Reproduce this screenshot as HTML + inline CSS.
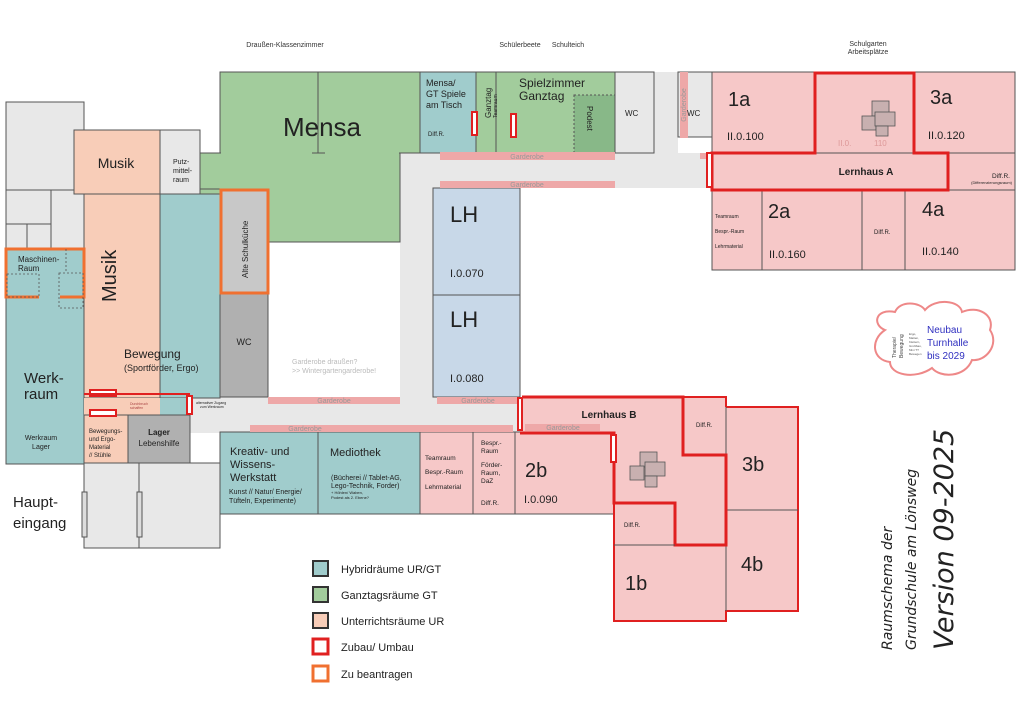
<!DOCTYPE html>
<html><head><meta charset="utf-8"><style>
html,body{margin:0;padding:0;background:#fff;}
svg{display:block;font-family:"Liberation Sans",sans-serif;}
</style></head><body>
<svg width="1024" height="703" viewBox="0 0 1024 703" xmlns="http://www.w3.org/2000/svg">
<rect width="1024" height="703" fill="#fff"/>
<g font-size="7" fill="#333">
<text x="285" y="47" text-anchor="middle">Draußen-Klassenzimmer</text>
<text x="520" y="47" text-anchor="middle">Schülerbeete</text>
<text x="568" y="47" text-anchor="middle">Schulteich</text>
<text x="868" y="46" text-anchor="middle">Schulgarten</text>
<text x="868" y="54" text-anchor="middle">Arbeitsplätze</text>
</g>
<g stroke="#555" stroke-width="1">
<rect x="400" y="153" width="312" height="35" fill="#e8e8e8" stroke="none"/>
<rect x="400" y="153" width="33" height="250" fill="#e8e8e8" stroke="none"/>
<rect x="84" y="397" width="530" height="36" fill="#e8e8e8" stroke="none"/>
<rect x="84" y="463" width="136" height="85" fill="#e8e8e8"/>
<line x1="139" y1="463" x2="139" y2="548"/>
<rect x="82" y="492" width="5" height="45" fill="#ddd"/>
<rect x="137" y="492" width="5" height="45" fill="#ddd"/>
<rect x="654" y="72" width="24" height="81" fill="#e8e8e8" stroke="none"/>
<rect x="6" y="102" width="78" height="146" fill="#e8e8e8"/>
<line x1="6" y1="190" x2="84" y2="190"/>
<line x1="51" y1="190" x2="51" y2="248"/>
<line x1="6" y1="224" x2="51" y2="224"/>
<line x1="27" y1="224" x2="27" y2="248"/>
<rect x="6" y="248" width="78" height="216" fill="#a0cccc"/>
<rect x="74" y="130" width="86" height="64" fill="#f8cdb8"/>
<rect x="160" y="130" width="40" height="64" fill="#e8e8e8"/>
<rect x="220" y="72" width="200" height="81" fill="#a2cc9c"/>
<rect x="200" y="153" width="200" height="89" fill="#a2cc9c"/>
<rect x="221" y="152" width="178" height="2" fill="#a2cc9c" stroke="none"/>
<line x1="318" y1="72" x2="318" y2="153"/>
<line x1="312" y1="153" x2="325" y2="153"/>
<line x1="200" y1="189" x2="220" y2="189"/>
<rect x="84" y="194" width="76" height="204" fill="#f8cdb8"/>
<rect x="160" y="194" width="60" height="204" fill="#a0cccc"/>
<rect x="220" y="190" width="48" height="103" fill="#c8c8c8"/>
<rect x="220" y="293" width="48" height="104" fill="#b0b0b0"/>
<rect x="84" y="398" width="106" height="17" fill="#f8cdb8" stroke="none"/>
<rect x="160" y="398" width="30" height="17" fill="#a0cccc" stroke="none"/>
<rect x="84" y="415" width="44" height="48" fill="#f8cdb8"/>
<rect x="128" y="415" width="62" height="48" fill="#b0b0b0"/>
<rect x="433" y="188" width="87" height="107" fill="#c8d8e8"/>
<rect x="433" y="295" width="87" height="102" fill="#c8d8e8"/>
<rect x="220" y="432" width="98" height="82" fill="#a0cccc"/>
<rect x="318" y="432" width="102" height="82" fill="#a0cccc"/>
<rect x="420" y="432" width="53" height="82" fill="#f6c8c8"/>
<rect x="473" y="432" width="42" height="82" fill="#f6c8c8"/>
<rect x="515" y="432" width="99" height="82" fill="#f6c8c8"/>
<rect x="420" y="72" width="56" height="81" fill="#a0cccc"/>
<rect x="476" y="72" width="20" height="81" fill="#a2cc9c"/>
<rect x="496" y="72" width="119" height="81" fill="#a2cc9c"/>
<rect x="574" y="95" width="41" height="58" fill="#88b888" stroke-dasharray="2,2"/>
<rect x="615" y="72" width="39" height="81" fill="#e8e8e8"/>
<rect x="678" y="72" width="34" height="65" fill="#e8e8e8"/>
<rect x="712" y="72" width="303" height="118" fill="#f6c8c8"/>
<line x1="712" y1="153" x2="1015" y2="153"/>
<line x1="915" y1="72" x2="915" y2="153"/>
<line x1="948" y1="153" x2="948" y2="190"/>
<rect x="712" y="190" width="50" height="80" fill="#f6c8c8"/>
<rect x="762" y="190" width="100" height="80" fill="#f6c8c8"/>
<rect x="862" y="190" width="43" height="80" fill="#f6c8c8"/>
<rect x="905" y="190" width="110" height="80" fill="#f6c8c8"/>
<path d="M520 397 H683 V455 H726 V545 H675 V503 H614 V433 H520 Z" fill="#f6c8c8" stroke="none"/>
<rect x="683" y="397" width="43" height="58" fill="#f6c8c8"/>
<rect x="726" y="407" width="72" height="103" fill="#f6c8c8"/>
<rect x="726" y="510" width="72" height="101" fill="#f6c8c8"/>
<rect x="614" y="503" width="61" height="42" fill="#f6c8c8"/>
<rect x="614" y="545" width="112" height="76" fill="#f6c8c8"/>
</g>
<g fill="#eea8a8">
<rect x="440" y="152" width="175" height="8"/>
<rect x="440" y="181" width="175" height="7"/>
<rect x="680" y="72" width="8" height="66"/>
<rect x="700" y="153" width="12" height="6"/>
<rect x="268" y="397" width="132" height="7"/>
<rect x="437" y="397" width="83" height="7"/>
<rect x="250" y="425" width="263" height="7"/>
<rect x="525" y="424" width="75" height="7"/>
</g>
<g font-size="7" fill="#999" text-anchor="middle">
<text x="527" y="159">Garderobe</text><text x="527" y="187">Garderobe</text>
<text x="334" y="403">Garderobe</text><text x="478" y="403">Garderobe</text>
<text x="305" y="431">Garderobe</text><text x="563" y="430">Garderobe</text>
<text transform="translate(686,105) rotate(-90)">Garderobe</text>
<text x="292" y="364" text-anchor="start" fill="#bbb">Garderobe draußen?</text>
<text x="292" y="373" text-anchor="start" fill="#bbb">&gt;&gt; Wintergartengarderobe!</text>
</g>
<g fill="none" stroke="#e02020" stroke-width="3">
<path d="M712 153 H815 V73 H914 V153 H948 V190 H712 Z"/>
<path d="M522 397 H683 V455 H726 V545 H675 V503 H614 V433 H520"/>
</g>
<path d="M614 503 V621 H726 V611 H798 V407 H726 M683 397 H726 V407" fill="none" stroke="#e02020" stroke-width="2"/>
<line x1="726" y1="407" x2="726" y2="611" stroke="#555"/>
<line x1="726" y1="510" x2="798" y2="510" stroke="#555"/>
<line x1="614" y1="545" x2="726" y2="545" stroke="#555"/>
<path d="M683 455 H726 V545 H675" fill="none" stroke="#e02020" stroke-width="3"/>
<g fill="#fff" stroke="#e02020" stroke-width="2">
<rect x="472" y="112" width="5" height="23"/><rect x="511" y="114" width="5" height="23"/>
<rect x="707" y="153" width="5" height="34"/><rect x="518" y="398" width="4" height="32"/>
<rect x="611" y="435" width="5" height="27"/>
<rect x="90" y="390" width="26" height="6"/><rect x="90" y="410" width="26" height="6"/>
<rect x="187" y="396" width="5" height="18"/>
</g>
<line x1="84" y1="394" x2="190" y2="394" stroke="#e02020" stroke-width="2"/>
<g fill="none" stroke="#f07030" stroke-width="3">
<rect x="221" y="190" width="47" height="103"/>
<path d="M39 297 H6 V249 H84 V297 H60"/>
</g>
<g fill="none" stroke="#555" stroke-dasharray="2,2" stroke-width="0.8">
<rect x="7" y="274" width="32" height="23"/><rect x="59" y="273" width="24" height="35"/><line x1="66" y1="249" x2="66" y2="273"/>
</g>
<g fill="#c8b0b0" stroke="#555" stroke-width="0.8">
<rect x="872" y="101" width="17" height="15"/><rect x="862" y="116" width="14" height="14"/><rect x="875" y="112" width="20" height="14"/><rect x="876" y="126" width="12" height="10"/>
<rect x="640" y="452" width="17" height="15"/><rect x="630" y="466" width="14" height="14"/><rect x="645" y="462" width="20" height="14"/><rect x="645" y="476" width="12" height="11"/>
</g>
<g fill="#222">
<text x="322" y="136" font-size="26" text-anchor="middle">Mensa</text>
<text x="116" y="168" font-size="14" text-anchor="middle">Musik</text>
<text x="173" y="164" font-size="7">Putz-</text><text x="173" y="173" font-size="7">mittel-</text><text x="173" y="182" font-size="7">raum</text>
<text x="18" y="262" font-size="8">Maschinen-</text><text x="18" y="271" font-size="8">Raum</text>
<text transform="translate(116,302) rotate(-90)" font-size="20">Musik</text>
<text transform="translate(248,278) rotate(-90)" font-size="8">Alte Schulküche</text>
<text x="244" y="345" font-size="9" text-anchor="middle">WC</text>
<text x="124" y="358" font-size="12">Bewegung</text>
<text x="124" y="371" font-size="9">(Sportförder, Ergo)</text>
<text x="24" y="383" font-size="15">Werk-</text><text x="24" y="399" font-size="15">raum</text>
<text x="41" y="440" font-size="7" text-anchor="middle">Werkraum</text><text x="41" y="449" font-size="7" text-anchor="middle">Lager</text>
<text x="89" y="433" font-size="6">Bewegungs-</text><text x="89" y="441" font-size="6">und Ergo-</text><text x="89" y="449" font-size="6">Material</text><text x="89" y="457" font-size="6">// Stühle</text>
<text x="159" y="435" font-size="8" font-weight="bold" text-anchor="middle">Lager</text><text x="159" y="446" font-size="8" text-anchor="middle">Lebenshilfe</text>
<text x="130" y="405" font-size="3.5" fill="#a44">Durchbruch</text><text x="130" y="409" font-size="3.5" fill="#a44">schaffen</text>
<text x="196" y="404" font-size="3.5">alternativer Zugang</text><text x="200" y="408" font-size="3.5">zum Werkraum</text>
<text x="13" y="507" font-size="15">Haupt-</text><text x="13" y="528" font-size="15">eingang</text>
<text x="230" y="455" font-size="11">Kreativ- und</text><text x="230" y="468" font-size="11">Wissens-</text><text x="230" y="481" font-size="11">Werkstatt</text>
<text x="229" y="494" font-size="7">Kunst // Natur/ Energie/</text><text x="229" y="503" font-size="7">Tüfteln, Experimente)</text>
<text x="330" y="456" font-size="11">Mediothek</text>
<text x="331" y="480" font-size="7">(Bücherei // Tablet-AG,</text><text x="331" y="488" font-size="7">Lego-Technik, Forder)</text>
<text x="331" y="494" font-size="4">+ Höhlen/ Waben,</text><text x="331" y="499" font-size="4">Podest als 2. Ebene?</text>
<text x="425" y="460" font-size="6.5">Teamraum</text><text x="425" y="474" font-size="6.5">Bespr.-Raum</text><text x="425" y="489" font-size="6.5">Lehrmaterial</text>
<text x="481" y="445" font-size="6.5">Bespr.-</text><text x="481" y="453" font-size="6.5">Raum</text><text x="481" y="467" font-size="6.5">Förder-</text><text x="481" y="475" font-size="6.5">Raum,</text><text x="481" y="483" font-size="6.5">DaZ</text><text x="481" y="505" font-size="6.5">Diff.R.</text>
<text x="525" y="477" font-size="20">2b</text><text x="524" y="503" font-size="11">I.0.090</text>
<text x="450" y="222" font-size="22">LH</text><text x="450" y="277" font-size="11">I.0.070</text>
<text x="450" y="327" font-size="22">LH</text><text x="450" y="382" font-size="11">I.0.080</text>
<text x="426" y="86" font-size="9">Mensa/</text><text x="426" y="97" font-size="9">GT Spiele</text><text x="426" y="108" font-size="9">am Tisch</text><text x="428" y="136" font-size="6">Diff.R.</text>
<text transform="translate(491,118) rotate(-90)" font-size="8">Ganztag</text><text transform="translate(497,118) rotate(-90)" font-size="5">Teamraum</text>
<text x="519" y="87" font-size="12">Spielzimmer</text><text x="519" y="100" font-size="12">Ganztag</text>
<text transform="translate(587,106) rotate(90)" font-size="8">Podest</text>
<text x="625" y="116" font-size="8">WC</text><text x="687" y="116" font-size="8">WC</text>
<text x="728" y="106" font-size="20">1a</text><text x="727" y="140" font-size="11">II.0.100</text>
<text x="838" y="146" font-size="8" fill="#d99">II.0.</text><text x="874" y="146" font-size="8" fill="#d99">110</text>
<text x="930" y="104" font-size="20">3a</text><text x="928" y="139" font-size="11">II.0.120</text>
<text x="866" y="175" font-size="10" font-weight="bold" text-anchor="middle">Lernhaus A</text>
<text x="1010" y="178" font-size="6.5" text-anchor="end">Diff.R.</text><text x="1012" y="184" font-size="4" text-anchor="end">(Differenzierungsraum)</text>
<text x="715" y="218" font-size="5">Teamraum</text><text x="715" y="233" font-size="5">Bespr.-Raum</text><text x="715" y="248" font-size="5">Lehrmaterial</text>
<text x="768" y="218" font-size="20">2a</text><text x="769" y="258" font-size="11">II.0.160</text>
<text x="874" y="234" font-size="6">Diff.R.</text>
<text x="922" y="216" font-size="20">4a</text><text x="922" y="255" font-size="11">II.0.140</text>
<text x="609" y="418" font-size="10" font-weight="bold" text-anchor="middle">Lernhaus B</text>
<text x="696" y="427" font-size="6">Diff.R.</text><text x="624" y="527" font-size="6">Diff.R.</text>
<text x="742" y="471" font-size="20">3b</text><text x="741" y="571" font-size="20">4b</text><text x="625" y="590" font-size="20">1b</text>
</g>
<path d="M885 330 C872 325 875 308 895 312 C900 300 920 302 925 310 C935 298 960 300 962 312 C978 305 995 315 990 330 C1000 345 985 362 972 360 C965 378 940 378 932 368 C915 380 890 375 890 362 C872 360 870 340 885 330 Z" fill="#fff" stroke="#e88" stroke-width="2"/>
<text transform="translate(896,358) rotate(-90)" font-size="5" fill="#444">Therapie/</text>
<text transform="translate(903,358) rotate(-90)" font-size="5" fill="#444">Bewegung</text>
<g font-size="3" fill="#555"><text x="909" y="335">Ergo,</text><text x="909" y="339">Matten,</text><text x="909" y="343">Klettern,</text><text x="909" y="347">Großbau,</text><text x="909" y="351">Mini TT</text><text x="909" y="355">Bewegen</text></g>
<g font-size="10" fill="#3030c0"><text x="927" y="333">Neubau</text><text x="927" y="346">Turnhalle</text><text x="927" y="359">bis 2029</text></g>
<g stroke-width="2">
<rect x="313" y="561" width="15" height="15" fill="#a0cccc" stroke="#333"/>
<rect x="313" y="587" width="15" height="15" fill="#a2cc9c" stroke="#333"/>
<rect x="313" y="613" width="15" height="15" fill="#f8cdb8" stroke="#333"/>
<rect x="313" y="639" width="15" height="15" fill="#fff" stroke="#e02020" stroke-width="3"/>
<rect x="313" y="666" width="15" height="15" fill="#fff" stroke="#f07030" stroke-width="3"/>
</g>
<g font-size="11" fill="#222">
<text x="341" y="573">Hybridräume UR/GT</text><text x="341" y="599">Ganztagsräume GT</text><text x="341" y="625">Unterrichtsräume UR</text><text x="341" y="651">Zubau/ Umbau</text><text x="341" y="678">Zu beantragen</text>
</g>
<g fill="#222" font-family="'DejaVu Sans',sans-serif" font-style="italic">
<text transform="translate(892,650) rotate(-90)" font-size="14">Raumschema der</text>
<text transform="translate(916,650) rotate(-90)" font-size="14">Grundschule am Lönsweg</text>
<text transform="translate(953,650) rotate(-90)" font-size="27">Version 09-2025</text>
</g>
</svg>
</body></html>
